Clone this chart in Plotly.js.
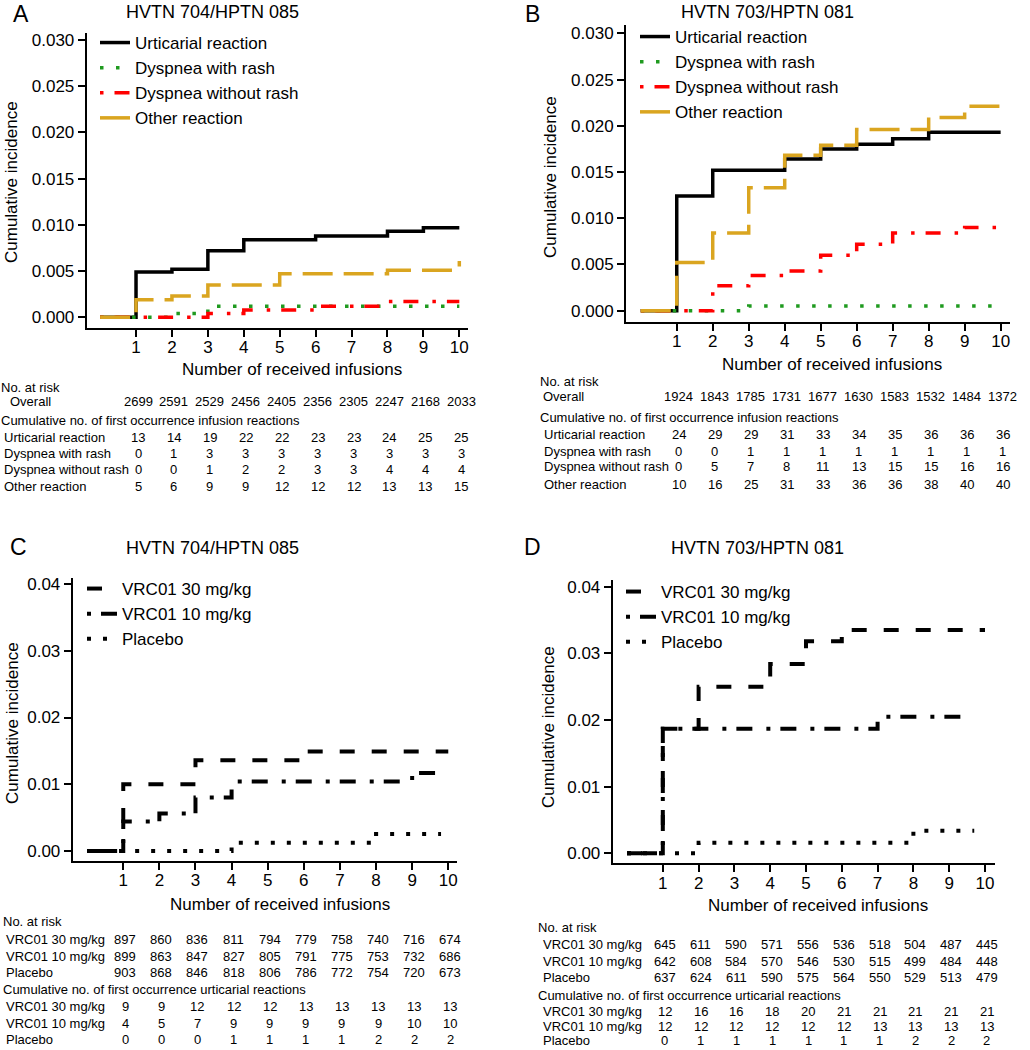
<!DOCTYPE html>
<html><head><meta charset="utf-8">
<script src="https://cdn.plot.ly/plotly-3.0.1.min.js"></script>
<style>html,body{margin:0;padding:0;background:#fff}#chart{width:1030px;height:1050px}</style>
</head><body><div id="chart"></div>
<script>
// ---------- data ----------
const infusions = [1,2,3,4,5,6,7,8,9,10];

// Panel A: HVTN 704/HPTN 085, reaction types
const aUrtX  = [0,1,2,3,4,6,8,9,10];
const aUrtY  = [0,0.0049,0.0052,0.0072,0.0084,0.0088,0.0093,0.0097,0.0097];
const aDwrX  = [0,2,3,10];
const aDwrY  = [0,0.0004,0.0012,0.0012];
const aDworX = [0,3,4,6,8,10];
const aDworY = [0,0.0004,0.0008,0.0012,0.0017,0.0017];
const aOthX  = [0,1,2,3,5,8,10];
const aOthY  = [0,0.0019,0.0023,0.0035,0.0047,0.0051,0.0061];

// Panel B: HVTN 703/HPTN 081, reaction types
const bUrtX  = [0,1,2,4,5,6,7,8,10];
const bUrtY  = [0,0.0124,0.0152,0.0164,0.0175,0.0180,0.0186,0.0193,0.0193];
const bDwrX  = [0,3,10];
const bDwrY  = [0,0.0005,0.0005];
const bDworX = [0,2,3,4,5,6,7,9,10];
const bDworY = [0,0.0027,0.0038,0.0043,0.0060,0.0072,0.0084,0.0090,0.0090];
const bOthX  = [0,1,2,3,4,5,6,8,9,10];
const bOthY  = [0,0.0052,0.0084,0.0133,0.0168,0.0179,0.0196,0.0209,0.0221,0.0221];

// Panel C: HVTN 704/HPTN 085, by arm
const c30X = [0,1,3,6,10];
const c30Y = [0,0.0100,0.0136,0.0149,0.0149];
const c10X = [0,1,2,3,4,9,9.7];
const c10Y = [0,0.0044,0.0056,0.0080,0.0104,0.0117,0.0117];
const cPlX = [0,4,8,9.8];
const cPlY = [0,0.00125,0.00255,0.00255];

// Panel D: HVTN 703/HPTN 081, by arm
const d30X = [0,1,2,4,5,6,10];
const d30Y = [0,0.0187,0.0250,0.0284,0.0318,0.0335,0.0335];
const d10X = [0,1,7,9.7];
const d10Y = [0,0.0187,0.0205,0.0205];
const dPlX = [0,2,8,9.7];
const dPlY = [0,0.0016,0.0034,0.0034];

// Tables
const aRiskOverall = [2699,2591,2529,2456,2405,2356,2305,2247,2168,2033];
const aCumUrt  = [13,14,19,22,22,23,23,24,25,25];
const aCumDwr  = [0,1,3,3,3,3,3,3,3,3];
const aCumDwor = [0,0,1,2,2,3,3,4,4,4];
const aCumOth  = [5,6,9,9,12,12,12,13,13,15];
const bRiskOverall = [1924,1843,1785,1731,1677,1630,1583,1532,1484,1372];
const bCumUrt  = [24,29,29,31,33,34,35,36,36,36];
const bCumDwr  = [0,0,1,1,1,1,1,1,1,1];
const bCumDwor = [0,5,7,8,11,13,15,15,16,16];
const bCumOth  = [10,16,25,31,33,36,36,38,40,40];
const cRisk30 = [897,860,836,811,794,779,758,740,716,674];
const cRisk10 = [899,863,847,827,805,791,775,753,732,686];
const cRiskPl = [903,868,846,818,806,786,772,754,720,673];
const cCum30  = [9,9,12,12,12,13,13,13,13,13];
const cCum10  = [4,5,7,9,9,9,9,9,10,10];
const cCumPl  = [0,0,0,1,1,1,1,2,2,2];
const dRisk30 = [645,611,590,571,556,536,518,504,487,445];
const dRisk10 = [642,608,584,570,546,530,515,499,484,448];
const dRiskPl = [637,624,611,590,575,564,550,529,513,479];
const dCum30  = [12,16,16,18,20,21,21,21,21,21];
const dCum10  = [12,12,12,12,12,12,13,13,13,13];
const dCumPl  = [0,1,1,1,1,1,1,2,2,2];

const reactionNames = ['Urticarial reaction','Dyspnea with rash','Dyspnea without rash','Other reaction'];
const armNames = ['VRC01 30 mg/kg','VRC01 10 mg/kg','Placebo'];

// ---------- styling ----------
const W = 1030, H = 1050;
const px = v => v / W;
const py = v => 1 - v / H;
const FONT = 'Liberation Sans, Arial, Helvetica, sans-serif';
const TF = 13; // table font size

const RS = [ // reaction styles
  {color:'#000000', width:3.5, dash:'solid'},
  {color:'#1f9a1f', width:3.5, dash:'3.5px,12.5px'},
  {color:'#ff0000', width:3.5, dash:'3.5px,11px,15px,14px'},
  {color:'#daa520', width:3.5, dash:'30px,11px'}
];
const AS = [ // arm styles
  {color:'#000000', width:4, dash:'15px,17px'},
  {color:'#000000', width:4, dash:'4px,10px,16px,14px'},
  {color:'#000000', width:4, dash:'4px,12px'}
];

function tr(x, y, name, st, xa, ya, leg) {
  return {x, y, name, type:'scatter', mode:'lines', line:{shape:'hv', color:st.color, width:st.width, dash:st.dash},
          xaxis:xa, yaxis:ya, legend:leg, showlegend:true, hoverinfo:'skip'};
}

const data = [
  tr(aUrtX,aUrtY,reactionNames[0],RS[0],'x','y','legend'),
  tr(aDwrX,aDwrY,reactionNames[1],RS[1],'x','y','legend'),
  tr(aDworX,aDworY,reactionNames[2],RS[2],'x','y','legend'),
  tr(aOthX,aOthY,reactionNames[3],RS[3],'x','y','legend'),
  tr(bUrtX,bUrtY,reactionNames[0],RS[0],'x2','y2','legend2'),
  tr(bDwrX,bDwrY,reactionNames[1],RS[1],'x2','y2','legend2'),
  tr(bDworX,bDworY,reactionNames[2],RS[2],'x2','y2','legend2'),
  tr(bOthX,bOthY,reactionNames[3],RS[3],'x2','y2','legend2'),
  tr(c30X,c30Y,armNames[0],AS[0],'x3','y3','legend3'),
  tr(c10X,c10Y,armNames[1],AS[1],'x3','y3','legend3'),
  tr(cPlX,cPlY,armNames[2],AS[2],'x3','y3','legend3'),
  tr(d30X,d30Y,armNames[0],AS[0],'x4','y4','legend4'),
  tr(d10X,d10Y,armNames[1],AS[1],'x4','y4','legend4'),
  tr(dPlX,dPlY,armNames[2],AS[2],'x4','y4','legend4')
];

function xax(l, r, range, anchor) {
  return {domain:[px(l), px(r)], range, anchor, tickvals:infusions, ticks:'outside', ticklen:7, tickwidth:2,
          tickcolor:'#000', showline:true, linecolor:'#000', linewidth:2, showgrid:false, zeroline:false,
          ticklabelstandoff:-4, tickfont:{size:17, color:'#000'}, fixedrange:true};
}
function yax(top, bottom, range, anchor, dt, fmt) {
  return {domain:[py(bottom), py(top)], range, anchor, tick0:0, dtick:dt, tickformat:fmt, ticks:'outside', ticklen:7,
          tickwidth:2, tickcolor:'#000', showline:true, linecolor:'#000', linewidth:2, showgrid:false, zeroline:false,
          tickfont:{size:17, color:'#000'}, fixedrange:true};
}
function leg(l, t) {
  return {x:px(l), y:py(t), xanchor:'left', yanchor:'top', bgcolor:'rgba(0,0,0,0)', borderwidth:0,
          font:{size:17, color:'#000', family:FONT}, tracegroupgap:0, itemclick:false};
}

const ann = [];
function txt(text, x, y, opts) {
  ann.push(Object.assign({text, x:px(x), y:py(y), xref:'paper', yref:'paper', showarrow:false,
    xanchor:'left', yanchor:'middle', font:{size:TF, color:'#000', family:FONT}}, opts || {}));
}
function nums(vals, xref, y) {
  vals.forEach((v, i) => ann.push({text:String(v), x:infusions[i], xref, y:py(y), yref:'paper', showarrow:false,
    xanchor:'center', yanchor:'middle', xshift:2, font:{size:TF, color:'#000', family:FONT}}));
}

// panel letters and titles
txt('A', 21, 14, {xanchor:'center', font:{size:23, color:'#000', family:FONT}});
txt('B', 532, 14, {xanchor:'center', font:{size:23, color:'#000', family:FONT}});
txt('C', 18, 547, {xanchor:'center', font:{size:23, color:'#000', family:FONT}});
txt('D', 532, 547, {xanchor:'center', font:{size:23, color:'#000', family:FONT}});
txt('HVTN 704/HPTN 085', 212, 12, {xanchor:'center', font:{size:18, color:'#000', family:FONT}});
txt('HVTN 703/HPTN 081', 767, 12, {xanchor:'center', font:{size:18, color:'#000', family:FONT}});
txt('HVTN 704/HPTN 085', 212, 548, {xanchor:'center', font:{size:18, color:'#000', family:FONT}});
txt('HVTN 703/HPTN 081', 757, 548, {xanchor:'center', font:{size:18, color:'#000', family:FONT}});
// axis titles
const XT = 'Number of received infusions', YT = 'Cumulative incidence';
txt(XT, 292, 369, {xanchor:'center', font:{size:17, color:'#000', family:FONT}});
txt(XT, 832, 364, {xanchor:'center', font:{size:17, color:'#000', family:FONT}});
txt(XT, 280, 904, {xanchor:'center', font:{size:17, color:'#000', family:FONT}});
txt(XT, 818, 905, {xanchor:'center', font:{size:17, color:'#000', family:FONT}});
txt(YT, 11, 182, {xanchor:'center', textangle:-90, font:{size:17, color:'#000', family:FONT}});
txt(YT, 550, 177, {xanchor:'center', textangle:-90, font:{size:17, color:'#000', family:FONT}});
txt(YT, 12, 723, {xanchor:'center', textangle:-90, font:{size:17, color:'#000', family:FONT}});
txt(YT, 548, 727, {xanchor:'center', textangle:-90, font:{size:17, color:'#000', family:FONT}});

// table A
txt('No. at risk', -1, 387); txt('Overall', 8, 402); nums(aRiskOverall, 'x', 402);
txt('Cumulative no. of first occurrence infusion reactions', -1, 420);
[[aCumUrt,437],[aCumDwr,453],[aCumDwor,469],[aCumOth,486]].forEach((r,i) => { txt(reactionNames[i], 2, r[1]); nums(r[0], 'x', r[1]); });
// table B
txt('No. at risk', 538, 381); txt('Overall', 541, 397); nums(bRiskOverall, 'x2', 397);
txt('Cumulative no. of first occurrence infusion reactions', 538, 417);
[[bCumUrt,434],[bCumDwr,451],[bCumDwor,467],[bCumOth,484]].forEach((r,i) => { txt(reactionNames[i], 542, r[1]); nums(r[0], 'x2', r[1]); });
// table C
txt('No. at risk', 1, 922);
[[cRisk30,939],[cRisk10,956],[cRiskPl,972]].forEach((r,i) => { txt(armNames[i], 4, r[1]); nums(r[0], 'x3', r[1]); });
txt('Cumulative no. of first occurrence urticarial reactions', 1, 989);
[[cCum30,1006],[cCum10,1023],[cCumPl,1039]].forEach((r,i) => { txt(armNames[i], 4, r[1]); nums(r[0], 'x3', r[1]); });
// table D
txt('No. at risk', 536, 927);
[[dRisk30,944],[dRisk10,961],[dRiskPl,977]].forEach((r,i) => { txt(armNames[i], 541, r[1]); nums(r[0], 'x4', r[1]); });
txt('Cumulative no. of first occurrence urticarial reactions', 536, 995);
[[dCum30,1011],[dCum10,1026],[dCumPl,1040]].forEach((r,i) => { txt(armNames[i], 541, r[1]); nums(r[0], 'x4', r[1]); });

const layout = {
  width:W, height:H, margin:{l:0, r:0, t:0, b:0}, paper_bgcolor:'#fff', plot_bgcolor:'rgba(0,0,0,0)',
  font:{family:FONT, color:'#000'},
  xaxis:  xax(86.7, 468.3, [-0.373, 10.25], 'y'),
  yaxis:  yax(33, 328, [-0.00116, 0.03076], 'x', 0.005, '.3f'),
  xaxis2: xax(626, 1010, [-0.41, 10.26], 'y2'),
  yaxis2: yax(25, 321.7, [-0.00119, 0.0309], 'x2', 0.005, '.3f'),
  xaxis3: xax(72.7, 457.3, [-0.40, 10.25], 'y3'),
  yaxis3: yax(578, 861, [-0.0015, 0.0409], 'x3', 0.01, '.2f'),
  xaxis4: xax(612.7, 995, [-0.40, 10.28], 'y4'),
  yaxis4: yax(580, 863.3, [-0.0015, 0.041], 'x4', 0.01, '.2f'),
  legend:  leg(95, 25),
  legend2: leg(635, 19),
  legend3: leg(82, 571),
  legend4: leg(621, 574),
  annotations: ann,
  hovermode:false
};

Plotly.newPlot('chart', data, layout, {staticPlot:true, displayModeBar:false});
</script>
</body></html>
